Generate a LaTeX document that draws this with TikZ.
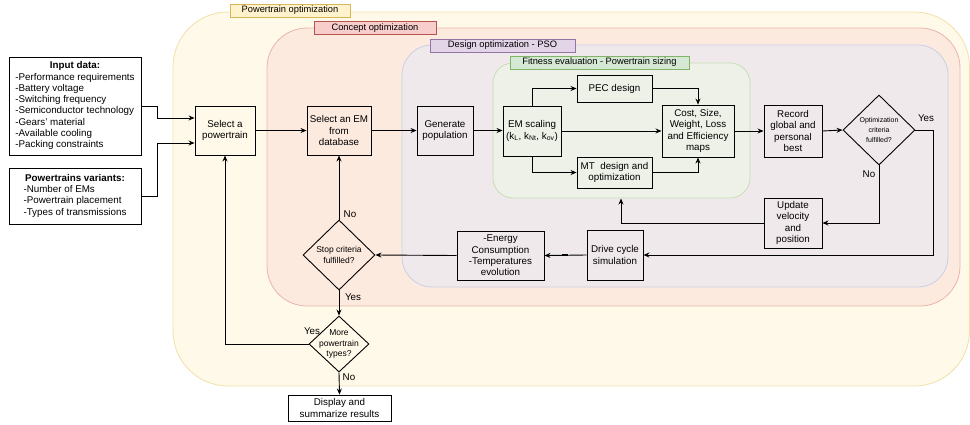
\documentclass[tikz,border=0pt]{standalone}
\usepackage{fontspec}
\setmainfont{Liberation Sans}
\usetikzlibrary{shapes.geometric,arrows.meta}
\definecolor{ptfill}{HTML}{FFF9E9}
\definecolor{ptline}{HTML}{F2DFA9}
\definecolor{ptlab}{HTML}{FFF2CC}
\definecolor{ptedge}{HTML}{D6B656}
\definecolor{cofill}{HTML}{FDEADF}
\definecolor{coline}{HTML}{EBB5AA}
\definecolor{colab}{HTML}{F8CECC}
\definecolor{coedge}{HTML}{B85450}
\definecolor{dofill}{HTML}{F0E9EC}
\definecolor{doline}{HTML}{C9CFE3}
\definecolor{dolab}{HTML}{E1D5E7}
\definecolor{doedge}{HTML}{9673A6}
\definecolor{fefill}{HTML}{EEF1E8}
\definecolor{feline}{HTML}{C6DFB5}
\definecolor{felab}{HTML}{D5E8D4}
\definecolor{feedge}{HTML}{82B366}
\newcommand\boxfont{\fontsize{9.8}{11.3}\selectfont}
\newcommand\grpfont{\fontsize{9.3}{11}\selectfont}
\newcommand\diafont{\fontsize{8.5}{10.5}\selectfont}
\begin{document}
\begin{tikzpicture}[x=1pt, y=-1pt, >={Stealth[length=6pt,width=5pt]},
  box/.style={draw, line width=0.9pt, align=center, inner sep=1pt, font=\boxfont},
  dia/.style={draw, diamond, line width=0.9pt, inner sep=0pt},
  diatext/.style={align=center, inner sep=0pt, font=\diafont},
  grp/.style={line width=0.8pt},
  grplab/.style={draw, line width=0.8pt, minimum height=13pt, inner sep=0pt, font=\grpfont},
  lab/.style={inner sep=0pt, font=\boxfont},
  conn/.style={->, line width=0.9pt}]
  \useasboundingbox (0,0) rectangle (970,424);
  \draw[grp, draw=ptline, fill=ptfill, rounded corners=55pt] (173,12) rectangle (969.5,386);
  \draw[grp, draw=coline, fill=cofill, rounded corners=40pt] (267,28) rectangle (960,306);
  \draw[grp, draw=doline, fill=dofill, rounded corners=30pt] (402,45) rectangle (948,287);
  \draw[grp, draw=feline, fill=fefill, rounded corners=20pt] (493,63) rectangle (750,198);
  \node[grplab, fill=ptlab, draw=ptedge, minimum width=120pt] (ptlabel) at (290,10.5) {Powertrain optimization};
  \node[grplab, fill=colab, draw=coedge, minimum width=122pt] (colabel) at (375,28) {Concept optimization};
  \node[grplab, fill=dolab, draw=doedge, minimum width=145pt] (dolabel) at (502.5,45.5) {Design optimization - PSO};
  \node[grplab, fill=felab, draw=feedge, minimum width=179pt] (felabel) at (599.5,62.5) {Fitness evaluation - Powertrain sizing};
  \coordinate (fitbot) at (621,198.5);

  \node[box, fill=white, minimum width=132pt, minimum height=98pt] (input) at (75,106)
    {\begin{tabular}{@{}l@{}}\multicolumn{1}{@{}c@{}}{\textbf{Input data:}}\\
     -Performance requirements\\-Battery voltage\\-Switching frequency\\
     -Semiconductor technology\\-Gears' material\\-Available cooling\\
     -Packing constraints\end{tabular}};
  \node[box, fill=white, minimum width=132pt, minimum height=56pt] (vari) at (75,196)
    {\begin{tabular}{@{}l@{}}\multicolumn{1}{@{}c@{}}{\textbf{Powertrains variants:}}\\
     -Number of EMs\\-Powertrain placement\\-Types of transmissions\end{tabular}};
  \node[box, minimum width=60pt, minimum height=49pt] (sel) at (225,130.5) {Select a\\powertrain};
  \node[box, minimum width=64pt, minimum height=49pt] (selem) at (339,130.5) {Select an EM\\from\\database};
  \node[box, minimum width=56pt, minimum height=49pt] (genpop) at (445,130.5) {Generate\\population};
  \node[box, minimum width=58pt, minimum height=50pt] (emscal) at (532,131)
    {EM scaling\\(k\textsubscript{L}, k\textsubscript{Nt}, k\textsubscript{ov})};
  \node[box, minimum width=75pt, minimum height=27pt] (pec) at (614.5,88.5) {PEC design};
  \node[box, minimum width=75pt, minimum height=31pt] (mt) at (614.5,172.5) {MT\ \ design and\\optimization};
  \node[box, minimum width=72pt, minimum height=52pt] (cost) at (698,131)
    {Cost, Size,\\Weight, Loss\\and Efficiency\\maps};
  \node[box, minimum width=58pt, minimum height=52pt] (record) at (793,131)
    {Record\\global and\\personal\\best};
  \node[dia, minimum width=72pt, minimum height=70pt] (optdia) at (879,130) {};
  \node[diatext, font=\fontsize{7}{10}\selectfont] (optdia-t) at (optdia) {Optimization\\criteria\\fulfilled?};
  \node[box, minimum width=58pt, minimum height=50pt] (update) at (793,223) {Update\\velocity\\and\\position};
  \node[box, minimum width=56pt, minimum height=50pt] (drive) at (615,255) {Drive cycle\\simulation};
  \node[box, minimum width=87pt, minimum height=49pt] (energy) at (500.5,255.5)
    {-Energy\\Consumption\\-Temperatures\\evolution};
  \node[dia, minimum width=72pt, minimum height=70pt] (stopdia) at (339,255) {};
  \node[diatext] (stopdia-t) at (stopdia) {Stop criteria\\fulfilled?};
  \node[dia, minimum width=60pt, minimum height=56pt] (moredia) at (339,344) {};
  \node[diatext] (moredia-t) at (moredia) {More\\powertrain\\types?};
  \node[box, minimum width=103pt, minimum height=26pt] (display) at (339.5,408)
    {Display and\\summarize results};

  \draw[conn] (input.east) -- ++(16,0) |- ([yshift=12.5pt]sel.west);
  \draw[conn] (vari.east) -- ++(16,0) |- ([yshift=-12.5pt]sel.west);
  \draw[conn] (sel.east) -- (selem.west);
  \draw[conn] (selem.east) -- (genpop.west);
  \draw[conn] (genpop.east) -- (genpop.east -| emscal.west);
  \draw[conn] (emscal.north) |- (pec.west);
  \draw[conn] (emscal.south) |- (mt.west);
  \draw[conn] (emscal.east) -- (cost.west);
  \draw[conn] (pec.east) -| (cost.north);
  \draw[conn] (mt.east) -| (cost.south);
  \draw[conn] (cost.east) -- (record.west);
  \draw[conn] (record.east) -- (optdia.west);
  \draw[conn] (optdia.east) -- ++(18,0) |- (drive.east);
  \draw[conn] (optdia.south) |- (update.east);
  \draw[conn] (update.west) -| (fitbot);
  \draw[conn] (drive.west) -- (energy.east);
  \draw[line width=2pt] ([xshift=-19pt]drive.west) -- ([xshift=-25pt]drive.west);
  \draw[conn] (energy.west) -- (stopdia.east);
  \draw[conn] (stopdia.north) -- (selem.south);
  \draw[conn] (stopdia.south) -- (moredia.north);
  \draw[conn] (moredia.west) -| (sel.south);
  \draw[conn] (moredia.south) -- (display.north);

  \node[lab] (yes1) at (926,118) {Yes};
  \node[lab] (no1) at (869,174) {No};
  \node[lab] (no2) at (350,214) {No};
  \node[lab] (yes2) at (353,297) {Yes};
  \node[lab] (yes3) at (312,331) {Yes};
  \node[lab] (no3) at (349,377) {No};
\end{tikzpicture}
\end{document}
